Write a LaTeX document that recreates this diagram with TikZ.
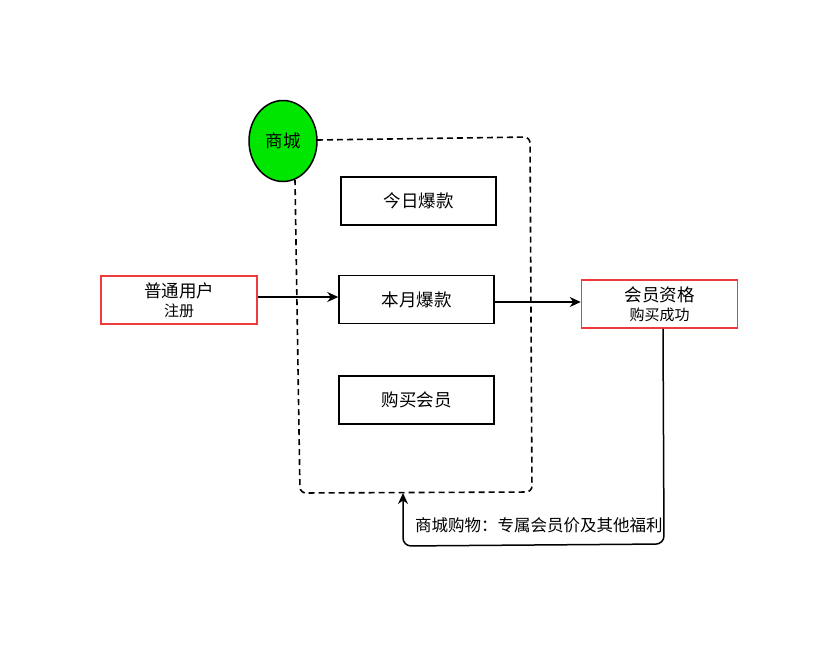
\documentclass[tikz,border=0pt]{standalone}
\usepackage{fontspec}
\setmainfont{Noto Sans CJK SC}
\usetikzlibrary{arrows.meta,shapes.geometric}
\definecolor{mgreen}{HTML}{00E600}
\definecolor{mred}{HTML}{EE3B3B}
\tikzset{
  blackbox/.style={draw=black,line width=1.5pt,minimum width=155pt,minimum height=48pt,inner sep=0pt,font=\fontsize{17.5}{20}\selectfont},
  redbox/.style={draw=mred,line width=1.5pt,minimum width=156pt,minimum height=48pt,inner sep=0pt,align=center,font=\fontsize{17.5}{19}\selectfont},
  subtext/.style={},
  conn/.style={line width=1.5pt,-{Stealth[length=11pt,width=10pt]}},
  dashline/.style={line width=1.6pt,dash pattern=on 6pt off 4pt,rounded corners=6pt},
}
\newcommand{\subsz}{\fontsize{15}{19}\selectfont}
\begin{document}
\begin{tikzpicture}[x=1pt,y=-1pt]
\useasboundingbox (0,0) rectangle (838,656);
% dashed region
\coordinate (d1) at (317,140);
\coordinate (d2) at (530,137);
\coordinate (d3) at (532,492);
\coordinate (d4) at (300,493);
\coordinate (d5) at (295,180);
\draw[dashline] (d1) -- (d2) -- (d3) -- (d4) -- (d5);
% mall circle
\node[ellipse,draw=black,line width=1.5pt,fill=mgreen,minimum width=68pt,minimum height=81pt,inner sep=0pt,font=\fontsize{17.5}{20}\selectfont] (mall) at (283,141) {商城};
% inner boxes
\node[blackbox] (today) at (418.5,201) {今日爆款};
\node[blackbox] (month) at (416.5,299.5) {本月爆款};
\node[blackbox] (buy) at (416.5,400) {购买会员};
% side boxes
\node[redbox] (user) at (179,300) {普通用户\\{\subsz 注册}};
\node[redbox] (member) at (659.5,304) {会员资格\\{\subsz 购买成功}};
% connectors
\draw[conn] (user.east |- 0,297) -- (month.west |- 0,297);
\draw[conn] (month.east |- 0,302) -- (member.west |- 0,302);
\coordinate (r1) at (664,544);
\coordinate (r2) at (403,546);
\coordinate (r3) at (403,493);
\draw[conn,rounded corners=8pt] (member.south -| 663,0) -- (r1) -- (r2) -- (r3);
\node[anchor=west,inner sep=0pt,font=\fontsize{16.5}{18}\selectfont] (lbl) at (415,525) {商城购物：专属会员价及其他福利};
\end{tikzpicture}
\end{document}
